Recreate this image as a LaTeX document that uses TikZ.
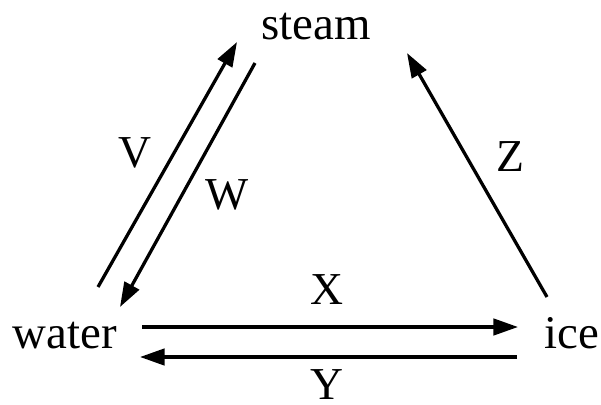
\documentclass[tikz,border=0pt]{standalone}
\usepackage{fontspec}
\setmainfont{Liberation Serif}
\usetikzlibrary{arrows.meta}

\begin{document}
\begin{tikzpicture}[x=0.03cm, y=-0.03cm,
	phase/.style={inner sep=0pt, anchor=base, font=\fontsize{40}{42}\selectfont},
	lbl/.style={inner sep=0pt, font=\fontsize{39}{41}\selectfont},
	conv/.style={line width=2.8pt, -{Triangle[length=21pt, width=14pt]}}]
	% Bounding box:
	\useasboundingbox (0, 0) rectangle (601, 405);
	% Phases:
	\node[phase](water) at (65, 348){water};
	\node[phase](steam) at (316, 40){steam};
	\node[phase](ice) at (572, 348){ice};
	% Transitions:
	\draw[conv] ([shift={(33, -61)}]water.base) -- ([shift={(-79, 2)}]steam.base);
	\draw[conv] ([shift={(-61, 23)}]steam.base) -- ([shift={(55, -41)}]water.base);
	\draw[conv] ([shift={(77, -21)}]water.base) -- ([shift={(-54, -21)}]ice.base);
	\draw[conv] ([shift={(-55, 9)}]ice.base) -- ([shift={(75, 9)}]water.base);
	\draw[conv] ([shift={(-25, -51)}]ice.base) -- ([shift={(91, 13)}]steam.base);
	% Labels:
	\node[lbl](V) at (135, 153){V};
	\node[lbl](W) at (227, 195){W};
	\node[lbl](X) at (327, 290){X};
	\node[lbl](Y) at (327, 385){Y};
	\node[lbl](Z) at (510, 157){Z};
\end{tikzpicture}
\end{document}
